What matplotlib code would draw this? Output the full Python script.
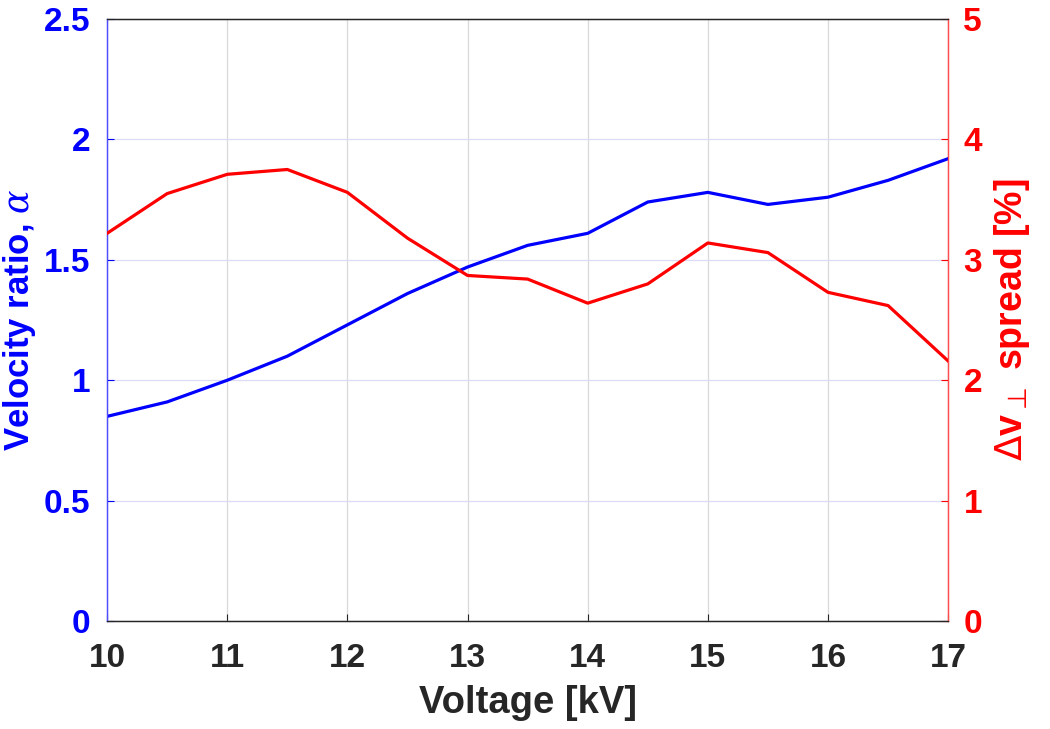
import matplotlib
matplotlib.use("Agg")
from matplotlib import pyplot as plt
import numpy as np

matplotlib.rcParams.update({
    'font.family': ['Liberation Sans', 'DejaVu Sans'],
    'font.weight': 'bold',
    'mathtext.fontset': 'custom',
    'mathtext.rm': 'DejaVu Sans:normal',
    'mathtext.it': 'DejaVu Serif:italic:normal',
    'mathtext.bf': 'Liberation Sans:bold',
})

# data
voltage = [10, 10.5, 11, 11.5, 12, 12.5, 13, 13.5, 14, 14.5, 15, 15.5, 16, 16.5, 17]
alpha = [0.85, 0.91, 1.00, 1.10, 1.23, 1.36, 1.47, 1.56, 1.61, 1.74, 1.78, 1.73, 1.76, 1.83, 1.92]
spread = [3.22, 3.55, 3.71, 3.75, 3.56, 3.18, 2.87, 2.84, 2.64, 2.80, 3.14, 3.06, 2.73, 2.62, 2.16]

fig = plt.figure(figsize=(10.5, 7.29), dpi=100)
ax = fig.add_axes([0.102, 0.148, 0.801, 0.826])
ax2 = ax.twinx()

ax.plot(voltage, alpha, '-', color=(0, 0, 1), lw=2.3, zorder=3)
ax2.plot(voltage, spread, '-', color=(1, 0, 0), lw=2.3, zorder=3)

ax.set_xlim(10, 17)
ax.set_ylim(0, 2.5)
ax2.set_ylim(0, 5)
ax.set_xticks(np.arange(10, 18, 1))
ax.set_yticks([0, 0.5, 1, 1.5, 2, 2.5])
ax.set_yticklabels(['0', '0.5', '1', '1.5', '2', '2.5'])
ax2.set_yticks([0, 1, 2, 3, 4, 5])

# grid: vertical grey, horizontal light blue (matlab style)
ax.xaxis.grid(True, color='#d9d9d9', lw=0.9)
ax.yaxis.grid(True, color='#dcdcf5', lw=0.9)
ax.set_axisbelow(True)

fs = 24
ax.tick_params(axis='x', colors='#262626', labelsize=fs, direction='in', length=5, pad=16)
ax.tick_params(axis='y', colors=(0, 0, 1), labelsize=fs, direction='in', length=5, pad=12)
ax2.tick_params(axis='y', colors=(1, 0, 0), labelsize=fs, direction='in', length=5, pad=11)
for lab in ax.get_xticklabels() + ax.get_yticklabels() + ax2.get_yticklabels():
    lab.set_fontweight('bold')

for a in (ax, ax2):
    a.spines['left'].set_color((0.3, 0.3, 1))
    a.spines['right'].set_color((1, 0.3, 0.3))
    a.spines['bottom'].set_color('#262626')
    a.spines['top'].set_color('#262626')
    for s in a.spines.values():
        s.set_linewidth(0.9)

ax.set_xlabel('Voltage [kV]', fontsize=27.5, fontweight='bold', color='#262626', labelpad=8)
ax.set_ylabel(r'Velocity ratio, $\mathit{\alpha}$', fontsize=25, fontweight='bold', color=(0, 0, 1), labelpad=4)
ax2.set_ylabel(r'$\mathrm{\Delta}\mathbf{v}_{\mathrm{\bot}}$ spread [%]', fontsize=27, fontweight='bold',
               color=(1, 0, 0), labelpad=7)

fig.savefig('out.png', dpi=100)
